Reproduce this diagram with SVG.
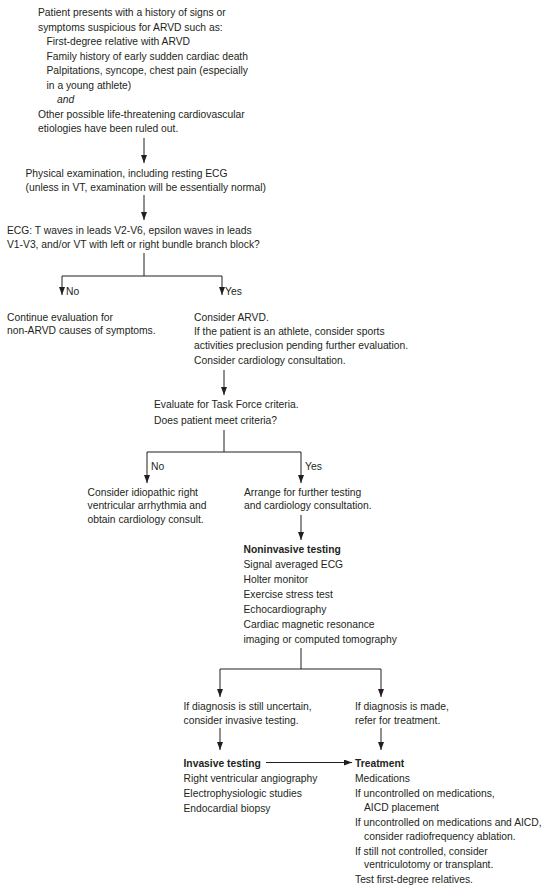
<svg xmlns="http://www.w3.org/2000/svg" width="550" height="893" viewBox="0 0 550 893">
<defs>
<style>
text{font-family:"Liberation Sans",Arial,sans-serif;font-size:10.3px;fill:#231f20}
.b{font-weight:bold}
.i{font-style:italic}
.c{fill:none;stroke:#231f20;stroke-width:1}
</style>
<marker id="ah" markerUnits="userSpaceOnUse" markerWidth="8" markerHeight="6" refX="8" refY="3" orient="auto">
<path d="M0,0 L8,3 L0,6 z" fill="#231f20"/>
</marker>
</defs>
<rect width="550" height="893" fill="#fff"/>
<g id="connectors">
<path class="c" d="M144,138 V163" marker-end="url(#ah)"/>
<path class="c" d="M144,195 V220" marker-end="url(#ah)"/>
<path class="c" d="M144,253 V276 M62,276 H222"/>
<path class="c" d="M62,276 V295" marker-end="url(#ah)"/>
<path class="c" d="M222,276 V295" marker-end="url(#ah)"/>
<path class="c" d="M224,370 V395" marker-end="url(#ah)"/>
<path class="c" d="M224,430 V452 M147,452 H301"/>
<path class="c" d="M147,452 V483" marker-end="url(#ah)"/>
<path class="c" d="M301,452 V483" marker-end="url(#ah)"/>
<path class="c" d="M301,515 V540" marker-end="url(#ah)"/>
<path class="c" d="M301,648 V669 M220,669 H381"/>
<path class="c" d="M220,669 V697" marker-end="url(#ah)"/>
<path class="c" d="M381,669 V697" marker-end="url(#ah)"/>
<path class="c" d="M220,728 V750" marker-end="url(#ah)"/>
<path class="c" d="M381,728 V750" marker-end="url(#ah)"/>
<path class="c" d="M266,762.5 H352" marker-end="url(#ah)"/>
<text x="66" y="295">No</text>
<text x="225" y="295">Yes</text>
<text x="151" y="470">No</text>
<text x="305" y="470">Yes</text>
</g>
<g id="start">
<text x="38" y="16">Patient presents with a history of signs or</text>
<text x="38" y="30.5">symptoms suspicious for ARVD such as:</text>
<text x="46.5" y="45">First-degree relative with ARVD</text>
<text x="46.5" y="59.5">Family history of early sudden cardiac death</text>
<text x="46.5" y="74">Palpitations, syncope, chest pain (especially</text>
<text x="46.5" y="88.5">in a young athlete)</text>
<text x="57" y="103" class="i">and</text>
<text x="38" y="117.5">Other possible life-threatening cardiovascular</text>
<text x="38" y="132">etiologies have been ruled out.</text>
</g>
<g id="physical">
<text x="25.5" y="177">Physical examination, including resting ECG</text>
<text x="25.5" y="190.5">(unless in VT, examination will be essentially normal)</text>
</g>
<g id="ecg">
<text x="7" y="234">ECG: T waves in leads V2-V6, epsilon waves in leads</text>
<text x="7" y="248">V1-V3, and/or VT with left or right bundle branch block?</text>
</g>
<g id="continue">
<text x="7" y="320.5">Continue evaluation for</text>
<text x="7" y="334">non-ARVD causes of symptoms.</text>
</g>
<g id="consider-arvd">
<text x="194" y="320.5">Consider ARVD.</text>
<text x="194" y="335">If the patient is an athlete, consider sports</text>
<text x="194" y="349">activities preclusion pending further evaluation.</text>
<text x="194" y="364">Consider cardiology consultation.</text>
</g>
<g id="task-force">
<text x="154" y="408">Evaluate for Task Force criteria.</text>
<text x="154" y="424">Does patient meet criteria?</text>
</g>
<g id="idiopathic">
<text x="87.5" y="495.5">Consider idiopathic right</text>
<text x="87.5" y="509">ventricular arrhythmia and</text>
<text x="87.5" y="523">obtain cardiology consult.</text>
</g>
<g id="arrange">
<text x="244" y="495.5">Arrange for further testing</text>
<text x="244" y="509">and cardiology consultation.</text>
</g>
<g id="noninvasive">
<text x="243.5" y="553" class="b">Noninvasive testing</text>
<text x="243.5" y="568">Signal averaged ECG</text>
<text x="243.5" y="583">Holter monitor</text>
<text x="243.5" y="598">Exercise stress test</text>
<text x="243.5" y="613">Echocardiography</text>
<text x="243.5" y="628">Cardiac magnetic resonance</text>
<text x="243.5" y="643">imaging or computed tomography</text>
</g>
<g id="uncertain">
<text x="183.5" y="709.5">If diagnosis is still uncertain,</text>
<text x="183.5" y="724">consider invasive testing.</text>
</g>
<g id="made">
<text x="355" y="709.5">If diagnosis is made,</text>
<text x="355" y="724">refer for treatment.</text>
</g>
<g id="invasive">
<text x="183.5" y="766.5" class="b">Invasive testing</text>
<text x="183.5" y="781.5">Right ventricular angiography</text>
<text x="183.5" y="797">Electrophysiologic studies</text>
<text x="183.5" y="812">Endocardial biopsy</text>
</g>
<g id="treatment">
<text x="355" y="766.5" class="b">Treatment</text>
<text x="355" y="781.5">Medications</text>
<text x="355" y="797">If uncontrolled on medications,</text>
<text x="364" y="810.5">AICD placement</text>
<text x="355" y="826">If uncontrolled on medications and AICD,</text>
<text x="364" y="840">consider radiofrequency ablation.</text>
<text x="355" y="855">If still not controlled, consider</text>
<text x="364" y="868">ventriculotomy or transplant.</text>
<text x="355" y="883">Test first-degree relatives.</text>
</g>
</svg>
